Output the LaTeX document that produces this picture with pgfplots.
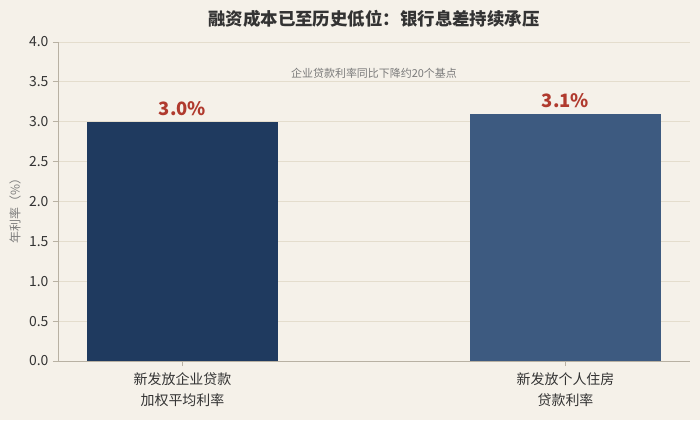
\documentclass[border=0pt]{standalone}
\usepackage{fontspec}
\setmainfont{Noto Sans CJK SC}
\usepackage{pgfplots}
\pgfplotsset{compat=1.18}
\definecolor{bg}{HTML}{F5F1E9}
\definecolor{barA}{HTML}{1F3A5F}
\definecolor{barB}{HTML}{3D5A80}
\definecolor{lab}{HTML}{B03A2E}
\definecolor{gridc}{HTML}{E4DDCD}
\definecolor{axc}{HTML}{B8B1A3}
\definecolor{txt}{HTML}{333333}
\definecolor{gtxt}{HTML}{7A7A7A}
\begin{document}
\begin{tikzpicture}[x=1bp,y=1bp]
\fill[bg] (0,0) rectangle (700,420);
\begin{axis}[
  at={(58bp,59bp)}, anchor=south west,
  scale only axis, width=632bp, height=319bp,
  xmin=-0.325, xmax=1.325, ymin=0, ymax=4,
  ytick={0,0.5,1,1.5,2,2.5,3,3.5,4},
  yticklabel style={/pgf/number format/fixed,/pgf/number format/fixed zerofill,/pgf/number format/precision=1, font=\fontsize{14}{16}\selectfont, text=txt, xshift=-1bp},
  /pgf/number format/assume math mode=true,
  xtick={0,1},
  xticklabels={新发放企业贷款\\加权平均利率, 新发放个人住房\\贷款利率},
  xticklabel style={align=center, font=\fontsize{14}{21}\selectfont, text=txt, yshift=-3bp},
  axis lines*=left,
  axis line style={axc, line width=0.8bp},
  tick style={axc, line width=0.8bp},
  tick align=outside, major tick length=5bp,
  xtick pos=bottom, ytick pos=left,
  ymajorgrids, grid style={gridc, line width=0.8bp},
  axis background/.style={fill=bg},
  clip=false,
]
\addplot[ybar, bar width=0.5, bar shift=0pt, fill=barA, draw=none,
  nodes near coords={\pgfmathprintnumber[fixed,fixed zerofill,precision=1]{\pgfplotspointmeta}\%},
  every node near coord/.append style={text=lab, font=\bfseries\fontsize{18.5}{20}\selectfont, yshift=2bp}]
  coordinates {(0,3.0)};
\addplot[ybar, bar width=0.5, bar shift=0pt, fill=barB, draw=none,
  nodes near coords={\pgfmathprintnumber[fixed,fixed zerofill,precision=1]{\pgfplotspointmeta}\%},
  every node near coord/.append style={text=lab, font=\bfseries\fontsize{18.5}{20}\selectfont, yshift=2bp}]
  coordinates {(1,3.1)};
\node[text=gtxt, font=\fontsize{11}{12}\selectfont] at (axis cs:0.5,3.61) {企业贷款利率同比下降约20个基点};
\end{axis}
\node[text=gtxt, rotate=90, font=\fontsize{12}{13}\selectfont] at (15,212) {年利率（\%）};
\node[text=txt, font=\bfseries\fontsize{17.5}{19}\selectfont] at (374,401) {融资成本已至历史低位：银行息差持续承压};
\end{tikzpicture}
\end{document}
